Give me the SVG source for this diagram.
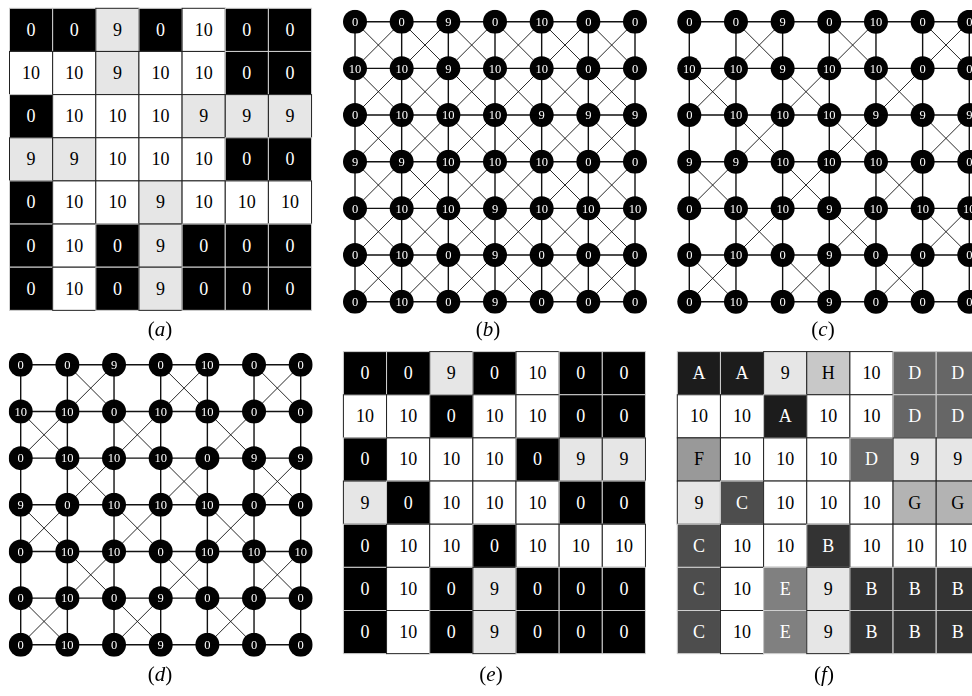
<svg xmlns="http://www.w3.org/2000/svg" xmlns:xlink="http://www.w3.org/1999/xlink" width="972" height="696" viewBox="0 0 972 696">
<style>
rect{width:43.15px;height:43.15px;stroke-width:1}
text{font-family:"Liberation Serif","Times New Roman",serif}
.c text{font-size:18px;text-anchor:middle}
.k rect{fill:#000;stroke:#cfcfcf}.k text{fill:#fff}
.w rect{fill:#fff;stroke:#222}.w text{fill:#000}
.g rect{fill:#e6e6e6;stroke:#222}.g text{fill:#000}
.A rect{fill:#1c1c1c;stroke:#cfcfcf}.A text{fill:#fff}
.B rect{fill:#333;stroke:#cfcfcf}.B text{fill:#fff}
.C rect{fill:#4d4d4d;stroke:#cfcfcf}.C text{fill:#fff}
.D rect{fill:#666;stroke:#cfcfcf}.D text{fill:#fff}
.E rect{fill:#808080;stroke:#cfcfcf}.E text{fill:#fff}
.F rect{fill:#999;stroke:#222}.F text{fill:#000}
.G rect{fill:#b3b3b3;stroke:#222}.G text{fill:#000}
.H rect{fill:#c8c8c8;stroke:#222}.H text{fill:#000}
.nodes{opacity:0.995}
.n circle{fill:#000}
.n text{fill:#fff;font-size:12.5px;text-anchor:middle}
.orth{fill:none;stroke:#111;stroke-width:1.4}
.diag{fill:none;stroke:#111;stroke-width:0.9}
.lbl{font-size:21px;text-anchor:middle;fill:#000}
</style>
<defs>
<path id="orth" d="M0 0H280M0 46.67H280M0 93.33H280M0 140H280M0 186.67H280M0 233.33H280M0 280H280M0 0V280M46.67 0V280M93.33 0V280M140 0V280M186.67 0V280M233.33 0V280M280 0V280"/>
<path id="full" d="M0 0L280 280M46.67 0L280 233.33M93.33 0L280 186.67M140 0L280 140M186.67 0L280 93.33M233.33 0L280 46.67M0 46.67L233.33 280M0 93.33L186.67 280M0 140L140 280M0 186.67L93.33 280M0 233.33L46.67 280M0 46.67L46.67 0M0 93.33L93.33 0M0 140L140 0M0 186.67L186.67 0M0 233.33L233.33 0M0 280L280 0M46.67 280L280 46.67M93.33 280L280 93.33M140 280L280 140M186.67 280L280 186.67M233.33 280L280 233.33"/>
<path id="chk" d="M46.67 0L93.33 46.67M93.33 0L46.67 46.67M140 0L186.67 46.67M186.67 0L140 46.67M233.33 0L280 46.67M280 0L233.33 46.67M0 46.67L46.67 93.33M46.67 46.67L0 93.33M93.33 46.67L140 93.33M140 46.67L93.33 93.33M186.67 46.67L233.33 93.33M233.33 46.67L186.67 93.33M46.67 93.33L93.33 140M93.33 93.33L46.67 140M140 93.33L186.67 140M186.67 93.33L140 140M233.33 93.33L280 140M280 93.33L233.33 140M0 140L46.67 186.67M46.67 140L0 186.67M93.33 140L140 186.67M140 140L93.33 186.67M186.67 140L233.33 186.67M233.33 140L186.67 186.67M46.67 186.67L93.33 233.33M93.33 186.67L46.67 233.33M140 186.67L186.67 233.33M186.67 186.67L140 233.33M233.33 186.67L280 233.33M280 186.67L233.33 233.33M0 233.33L46.67 280M46.67 233.33L0 280M93.33 233.33L140 280M140 233.33L93.33 280M186.67 233.33L233.33 280M233.33 233.33L186.67 280"/>
</defs>

<!-- Panel (a) -->
<g id="panel-a" class="c" transform="translate(9.5,8.3)">
<g class="k" transform="translate(0,0)"><rect/><text x="21.6" y="27.6">0</text></g>
<g class="k" transform="translate(43.15,0)"><rect/><text x="21.6" y="27.6">0</text></g>
<g class="g" transform="translate(86.3,0)"><rect/><text x="21.6" y="27.6">9</text></g>
<g class="k" transform="translate(129.45,0)"><rect/><text x="21.6" y="27.6">0</text></g>
<g class="w" transform="translate(172.6,0)"><rect/><text x="21.6" y="27.6">10</text></g>
<g class="k" transform="translate(215.75,0)"><rect/><text x="21.6" y="27.6">0</text></g>
<g class="k" transform="translate(258.9,0)"><rect/><text x="21.6" y="27.6">0</text></g>
<g class="w" transform="translate(0,43.15)"><rect/><text x="21.6" y="27.6">10</text></g>
<g class="w" transform="translate(43.15,43.15)"><rect/><text x="21.6" y="27.6">10</text></g>
<g class="g" transform="translate(86.3,43.15)"><rect/><text x="21.6" y="27.6">9</text></g>
<g class="w" transform="translate(129.45,43.15)"><rect/><text x="21.6" y="27.6">10</text></g>
<g class="w" transform="translate(172.6,43.15)"><rect/><text x="21.6" y="27.6">10</text></g>
<g class="k" transform="translate(215.75,43.15)"><rect/><text x="21.6" y="27.6">0</text></g>
<g class="k" transform="translate(258.9,43.15)"><rect/><text x="21.6" y="27.6">0</text></g>
<g class="k" transform="translate(0,86.3)"><rect/><text x="21.6" y="27.6">0</text></g>
<g class="w" transform="translate(43.15,86.3)"><rect/><text x="21.6" y="27.6">10</text></g>
<g class="w" transform="translate(86.3,86.3)"><rect/><text x="21.6" y="27.6">10</text></g>
<g class="w" transform="translate(129.45,86.3)"><rect/><text x="21.6" y="27.6">10</text></g>
<g class="g" transform="translate(172.6,86.3)"><rect/><text x="21.6" y="27.6">9</text></g>
<g class="g" transform="translate(215.75,86.3)"><rect/><text x="21.6" y="27.6">9</text></g>
<g class="g" transform="translate(258.9,86.3)"><rect/><text x="21.6" y="27.6">9</text></g>
<g class="g" transform="translate(0,129.45)"><rect/><text x="21.6" y="27.6">9</text></g>
<g class="g" transform="translate(43.15,129.45)"><rect/><text x="21.6" y="27.6">9</text></g>
<g class="w" transform="translate(86.3,129.45)"><rect/><text x="21.6" y="27.6">10</text></g>
<g class="w" transform="translate(129.45,129.45)"><rect/><text x="21.6" y="27.6">10</text></g>
<g class="w" transform="translate(172.6,129.45)"><rect/><text x="21.6" y="27.6">10</text></g>
<g class="k" transform="translate(215.75,129.45)"><rect/><text x="21.6" y="27.6">0</text></g>
<g class="k" transform="translate(258.9,129.45)"><rect/><text x="21.6" y="27.6">0</text></g>
<g class="k" transform="translate(0,172.6)"><rect/><text x="21.6" y="27.6">0</text></g>
<g class="w" transform="translate(43.15,172.6)"><rect/><text x="21.6" y="27.6">10</text></g>
<g class="w" transform="translate(86.3,172.6)"><rect/><text x="21.6" y="27.6">10</text></g>
<g class="g" transform="translate(129.45,172.6)"><rect/><text x="21.6" y="27.6">9</text></g>
<g class="w" transform="translate(172.6,172.6)"><rect/><text x="21.6" y="27.6">10</text></g>
<g class="w" transform="translate(215.75,172.6)"><rect/><text x="21.6" y="27.6">10</text></g>
<g class="w" transform="translate(258.9,172.6)"><rect/><text x="21.6" y="27.6">10</text></g>
<g class="k" transform="translate(0,215.75)"><rect/><text x="21.6" y="27.6">0</text></g>
<g class="w" transform="translate(43.15,215.75)"><rect/><text x="21.6" y="27.6">10</text></g>
<g class="k" transform="translate(86.3,215.75)"><rect/><text x="21.6" y="27.6">0</text></g>
<g class="g" transform="translate(129.45,215.75)"><rect/><text x="21.6" y="27.6">9</text></g>
<g class="k" transform="translate(172.6,215.75)"><rect/><text x="21.6" y="27.6">0</text></g>
<g class="k" transform="translate(215.75,215.75)"><rect/><text x="21.6" y="27.6">0</text></g>
<g class="k" transform="translate(258.9,215.75)"><rect/><text x="21.6" y="27.6">0</text></g>
<g class="k" transform="translate(0,258.9)"><rect/><text x="21.6" y="27.6">0</text></g>
<g class="w" transform="translate(43.15,258.9)"><rect/><text x="21.6" y="27.6">10</text></g>
<g class="k" transform="translate(86.3,258.9)"><rect/><text x="21.6" y="27.6">0</text></g>
<g class="g" transform="translate(129.45,258.9)"><rect/><text x="21.6" y="27.6">9</text></g>
<g class="k" transform="translate(172.6,258.9)"><rect/><text x="21.6" y="27.6">0</text></g>
<g class="k" transform="translate(215.75,258.9)"><rect/><text x="21.6" y="27.6">0</text></g>
<g class="k" transform="translate(258.9,258.9)"><rect/><text x="21.6" y="27.6">0</text></g>
</g>

<!-- Panel (e) -->
<g id="panel-e" class="c" transform="translate(343.4,351.6)">
<g class="k" transform="translate(0,0)"><rect/><text x="21.6" y="27.6">0</text></g>
<g class="k" transform="translate(43.15,0)"><rect/><text x="21.6" y="27.6">0</text></g>
<g class="g" transform="translate(86.3,0)"><rect/><text x="21.6" y="27.6">9</text></g>
<g class="k" transform="translate(129.45,0)"><rect/><text x="21.6" y="27.6">0</text></g>
<g class="w" transform="translate(172.6,0)"><rect/><text x="21.6" y="27.6">10</text></g>
<g class="k" transform="translate(215.75,0)"><rect/><text x="21.6" y="27.6">0</text></g>
<g class="k" transform="translate(258.9,0)"><rect/><text x="21.6" y="27.6">0</text></g>
<g class="w" transform="translate(0,43.15)"><rect/><text x="21.6" y="27.6">10</text></g>
<g class="w" transform="translate(43.15,43.15)"><rect/><text x="21.6" y="27.6">10</text></g>
<g class="k" transform="translate(86.3,43.15)"><rect/><text x="21.6" y="27.6">0</text></g>
<g class="w" transform="translate(129.45,43.15)"><rect/><text x="21.6" y="27.6">10</text></g>
<g class="w" transform="translate(172.6,43.15)"><rect/><text x="21.6" y="27.6">10</text></g>
<g class="k" transform="translate(215.75,43.15)"><rect/><text x="21.6" y="27.6">0</text></g>
<g class="k" transform="translate(258.9,43.15)"><rect/><text x="21.6" y="27.6">0</text></g>
<g class="k" transform="translate(0,86.3)"><rect/><text x="21.6" y="27.6">0</text></g>
<g class="w" transform="translate(43.15,86.3)"><rect/><text x="21.6" y="27.6">10</text></g>
<g class="w" transform="translate(86.3,86.3)"><rect/><text x="21.6" y="27.6">10</text></g>
<g class="w" transform="translate(129.45,86.3)"><rect/><text x="21.6" y="27.6">10</text></g>
<g class="k" transform="translate(172.6,86.3)"><rect/><text x="21.6" y="27.6">0</text></g>
<g class="g" transform="translate(215.75,86.3)"><rect/><text x="21.6" y="27.6">9</text></g>
<g class="g" transform="translate(258.9,86.3)"><rect/><text x="21.6" y="27.6">9</text></g>
<g class="g" transform="translate(0,129.45)"><rect/><text x="21.6" y="27.6">9</text></g>
<g class="k" transform="translate(43.15,129.45)"><rect/><text x="21.6" y="27.6">0</text></g>
<g class="w" transform="translate(86.3,129.45)"><rect/><text x="21.6" y="27.6">10</text></g>
<g class="w" transform="translate(129.45,129.45)"><rect/><text x="21.6" y="27.6">10</text></g>
<g class="w" transform="translate(172.6,129.45)"><rect/><text x="21.6" y="27.6">10</text></g>
<g class="k" transform="translate(215.75,129.45)"><rect/><text x="21.6" y="27.6">0</text></g>
<g class="k" transform="translate(258.9,129.45)"><rect/><text x="21.6" y="27.6">0</text></g>
<g class="k" transform="translate(0,172.6)"><rect/><text x="21.6" y="27.6">0</text></g>
<g class="w" transform="translate(43.15,172.6)"><rect/><text x="21.6" y="27.6">10</text></g>
<g class="w" transform="translate(86.3,172.6)"><rect/><text x="21.6" y="27.6">10</text></g>
<g class="k" transform="translate(129.45,172.6)"><rect/><text x="21.6" y="27.6">0</text></g>
<g class="w" transform="translate(172.6,172.6)"><rect/><text x="21.6" y="27.6">10</text></g>
<g class="w" transform="translate(215.75,172.6)"><rect/><text x="21.6" y="27.6">10</text></g>
<g class="w" transform="translate(258.9,172.6)"><rect/><text x="21.6" y="27.6">10</text></g>
<g class="k" transform="translate(0,215.75)"><rect/><text x="21.6" y="27.6">0</text></g>
<g class="w" transform="translate(43.15,215.75)"><rect/><text x="21.6" y="27.6">10</text></g>
<g class="k" transform="translate(86.3,215.75)"><rect/><text x="21.6" y="27.6">0</text></g>
<g class="g" transform="translate(129.45,215.75)"><rect/><text x="21.6" y="27.6">9</text></g>
<g class="k" transform="translate(172.6,215.75)"><rect/><text x="21.6" y="27.6">0</text></g>
<g class="k" transform="translate(215.75,215.75)"><rect/><text x="21.6" y="27.6">0</text></g>
<g class="k" transform="translate(258.9,215.75)"><rect/><text x="21.6" y="27.6">0</text></g>
<g class="k" transform="translate(0,258.9)"><rect/><text x="21.6" y="27.6">0</text></g>
<g class="w" transform="translate(43.15,258.9)"><rect/><text x="21.6" y="27.6">10</text></g>
<g class="k" transform="translate(86.3,258.9)"><rect/><text x="21.6" y="27.6">0</text></g>
<g class="g" transform="translate(129.45,258.9)"><rect/><text x="21.6" y="27.6">9</text></g>
<g class="k" transform="translate(172.6,258.9)"><rect/><text x="21.6" y="27.6">0</text></g>
<g class="k" transform="translate(215.75,258.9)"><rect/><text x="21.6" y="27.6">0</text></g>
<g class="k" transform="translate(258.9,258.9)"><rect/><text x="21.6" y="27.6">0</text></g>
</g>

<!-- Panel (f) -->
<g id="panel-f" class="c" transform="translate(677.3,351.6)">
<g class="A" transform="translate(0,0)"><rect/><text x="21.6" y="27.6">A</text></g>
<g class="A" transform="translate(43.15,0)"><rect/><text x="21.6" y="27.6">A</text></g>
<g class="g" transform="translate(86.3,0)"><rect/><text x="21.6" y="27.6">9</text></g>
<g class="H" transform="translate(129.45,0)"><rect/><text x="21.6" y="27.6">H</text></g>
<g class="w" transform="translate(172.6,0)"><rect/><text x="21.6" y="27.6">10</text></g>
<g class="D" transform="translate(215.75,0)"><rect/><text x="21.6" y="27.6">D</text></g>
<g class="D" transform="translate(258.9,0)"><rect/><text x="21.6" y="27.6">D</text></g>
<g class="w" transform="translate(0,43.15)"><rect/><text x="21.6" y="27.6">10</text></g>
<g class="w" transform="translate(43.15,43.15)"><rect/><text x="21.6" y="27.6">10</text></g>
<g class="A" transform="translate(86.3,43.15)"><rect/><text x="21.6" y="27.6">A</text></g>
<g class="w" transform="translate(129.45,43.15)"><rect/><text x="21.6" y="27.6">10</text></g>
<g class="w" transform="translate(172.6,43.15)"><rect/><text x="21.6" y="27.6">10</text></g>
<g class="D" transform="translate(215.75,43.15)"><rect/><text x="21.6" y="27.6">D</text></g>
<g class="D" transform="translate(258.9,43.15)"><rect/><text x="21.6" y="27.6">D</text></g>
<g class="F" transform="translate(0,86.3)"><rect/><text x="21.6" y="27.6">F</text></g>
<g class="w" transform="translate(43.15,86.3)"><rect/><text x="21.6" y="27.6">10</text></g>
<g class="w" transform="translate(86.3,86.3)"><rect/><text x="21.6" y="27.6">10</text></g>
<g class="w" transform="translate(129.45,86.3)"><rect/><text x="21.6" y="27.6">10</text></g>
<g class="D" transform="translate(172.6,86.3)"><rect/><text x="21.6" y="27.6">D</text></g>
<g class="g" transform="translate(215.75,86.3)"><rect/><text x="21.6" y="27.6">9</text></g>
<g class="g" transform="translate(258.9,86.3)"><rect/><text x="21.6" y="27.6">9</text></g>
<g class="g" transform="translate(0,129.45)"><rect/><text x="21.6" y="27.6">9</text></g>
<g class="C" transform="translate(43.15,129.45)"><rect/><text x="21.6" y="27.6">C</text></g>
<g class="w" transform="translate(86.3,129.45)"><rect/><text x="21.6" y="27.6">10</text></g>
<g class="w" transform="translate(129.45,129.45)"><rect/><text x="21.6" y="27.6">10</text></g>
<g class="w" transform="translate(172.6,129.45)"><rect/><text x="21.6" y="27.6">10</text></g>
<g class="G" transform="translate(215.75,129.45)"><rect/><text x="21.6" y="27.6">G</text></g>
<g class="G" transform="translate(258.9,129.45)"><rect/><text x="21.6" y="27.6">G</text></g>
<g class="C" transform="translate(0,172.6)"><rect/><text x="21.6" y="27.6">C</text></g>
<g class="w" transform="translate(43.15,172.6)"><rect/><text x="21.6" y="27.6">10</text></g>
<g class="w" transform="translate(86.3,172.6)"><rect/><text x="21.6" y="27.6">10</text></g>
<g class="B" transform="translate(129.45,172.6)"><rect/><text x="21.6" y="27.6">B</text></g>
<g class="w" transform="translate(172.6,172.6)"><rect/><text x="21.6" y="27.6">10</text></g>
<g class="w" transform="translate(215.75,172.6)"><rect/><text x="21.6" y="27.6">10</text></g>
<g class="w" transform="translate(258.9,172.6)"><rect/><text x="21.6" y="27.6">10</text></g>
<g class="C" transform="translate(0,215.75)"><rect/><text x="21.6" y="27.6">C</text></g>
<g class="w" transform="translate(43.15,215.75)"><rect/><text x="21.6" y="27.6">10</text></g>
<g class="E" transform="translate(86.3,215.75)"><rect/><text x="21.6" y="27.6">E</text></g>
<g class="g" transform="translate(129.45,215.75)"><rect/><text x="21.6" y="27.6">9</text></g>
<g class="B" transform="translate(172.6,215.75)"><rect/><text x="21.6" y="27.6">B</text></g>
<g class="B" transform="translate(215.75,215.75)"><rect/><text x="21.6" y="27.6">B</text></g>
<g class="B" transform="translate(258.9,215.75)"><rect/><text x="21.6" y="27.6">B</text></g>
<g class="C" transform="translate(0,258.9)"><rect/><text x="21.6" y="27.6">C</text></g>
<g class="w" transform="translate(43.15,258.9)"><rect/><text x="21.6" y="27.6">10</text></g>
<g class="E" transform="translate(86.3,258.9)"><rect/><text x="21.6" y="27.6">E</text></g>
<g class="g" transform="translate(129.45,258.9)"><rect/><text x="21.6" y="27.6">9</text></g>
<g class="B" transform="translate(172.6,258.9)"><rect/><text x="21.6" y="27.6">B</text></g>
<g class="B" transform="translate(215.75,258.9)"><rect/><text x="21.6" y="27.6">B</text></g>
<g class="B" transform="translate(258.9,258.9)"><rect/><text x="21.6" y="27.6">B</text></g>
</g>

<!-- Connectors -->
<g id="connectors">
<g transform="translate(355,21.7)"><use xlink:href="#orth" class="orth"/><use xlink:href="#full" class="diag"/></g>
<g transform="translate(689.3,21.7)"><use xlink:href="#orth" class="orth"/><use xlink:href="#chk" class="diag"/></g>
<g transform="translate(20.7,364.8)"><use xlink:href="#orth" class="orth"/><use xlink:href="#chk" class="diag"/></g>
</g>

<!-- Panel (b) nodes -->
<g id="panel-b" class="nodes" transform="translate(355,21.7)">
<g id="b00" class="n" transform="translate(0,0)"><circle r="12"/><text y="4.3">0</text></g>
<g id="b01" class="n" transform="translate(46.67,0)"><circle r="12"/><text y="4.3">0</text></g>
<g id="b02" class="n" transform="translate(93.33,0)"><circle r="12"/><text y="4.3">9</text></g>
<g id="b03" class="n" transform="translate(140,0)"><circle r="12"/><text y="4.3">0</text></g>
<g id="b04" class="n" transform="translate(186.67,0)"><circle r="12"/><text y="4.3">10</text></g>
<g id="b05" class="n" transform="translate(233.33,0)"><circle r="12"/><text y="4.3">0</text></g>
<g id="b06" class="n" transform="translate(280,0)"><circle r="12"/><text y="4.3">0</text></g>
<g id="b10" class="n" transform="translate(0,46.67)"><circle r="12"/><text y="4.3">10</text></g>
<g id="b11" class="n" transform="translate(46.67,46.67)"><circle r="12"/><text y="4.3">10</text></g>
<g id="b12" class="n" transform="translate(93.33,46.67)"><circle r="12"/><text y="4.3">9</text></g>
<g id="b13" class="n" transform="translate(140,46.67)"><circle r="12"/><text y="4.3">10</text></g>
<g id="b14" class="n" transform="translate(186.67,46.67)"><circle r="12"/><text y="4.3">10</text></g>
<g id="b15" class="n" transform="translate(233.33,46.67)"><circle r="12"/><text y="4.3">0</text></g>
<g id="b16" class="n" transform="translate(280,46.67)"><circle r="12"/><text y="4.3">0</text></g>
<g id="b20" class="n" transform="translate(0,93.33)"><circle r="12"/><text y="4.3">0</text></g>
<g id="b21" class="n" transform="translate(46.67,93.33)"><circle r="12"/><text y="4.3">10</text></g>
<g id="b22" class="n" transform="translate(93.33,93.33)"><circle r="12"/><text y="4.3">10</text></g>
<g id="b23" class="n" transform="translate(140,93.33)"><circle r="12"/><text y="4.3">10</text></g>
<g id="b24" class="n" transform="translate(186.67,93.33)"><circle r="12"/><text y="4.3">9</text></g>
<g id="b25" class="n" transform="translate(233.33,93.33)"><circle r="12"/><text y="4.3">9</text></g>
<g id="b26" class="n" transform="translate(280,93.33)"><circle r="12"/><text y="4.3">9</text></g>
<g id="b30" class="n" transform="translate(0,140)"><circle r="12"/><text y="4.3">9</text></g>
<g id="b31" class="n" transform="translate(46.67,140)"><circle r="12"/><text y="4.3">9</text></g>
<g id="b32" class="n" transform="translate(93.33,140)"><circle r="12"/><text y="4.3">10</text></g>
<g id="b33" class="n" transform="translate(140,140)"><circle r="12"/><text y="4.3">10</text></g>
<g id="b34" class="n" transform="translate(186.67,140)"><circle r="12"/><text y="4.3">10</text></g>
<g id="b35" class="n" transform="translate(233.33,140)"><circle r="12"/><text y="4.3">0</text></g>
<g id="b36" class="n" transform="translate(280,140)"><circle r="12"/><text y="4.3">0</text></g>
<g id="b40" class="n" transform="translate(0,186.67)"><circle r="12"/><text y="4.3">0</text></g>
<g id="b41" class="n" transform="translate(46.67,186.67)"><circle r="12"/><text y="4.3">10</text></g>
<g id="b42" class="n" transform="translate(93.33,186.67)"><circle r="12"/><text y="4.3">10</text></g>
<g id="b43" class="n" transform="translate(140,186.67)"><circle r="12"/><text y="4.3">9</text></g>
<g id="b44" class="n" transform="translate(186.67,186.67)"><circle r="12"/><text y="4.3">10</text></g>
<g id="b45" class="n" transform="translate(233.33,186.67)"><circle r="12"/><text y="4.3">10</text></g>
<g id="b46" class="n" transform="translate(280,186.67)"><circle r="12"/><text y="4.3">10</text></g>
<g id="b50" class="n" transform="translate(0,233.33)"><circle r="12"/><text y="4.3">0</text></g>
<g id="b51" class="n" transform="translate(46.67,233.33)"><circle r="12"/><text y="4.3">10</text></g>
<g id="b52" class="n" transform="translate(93.33,233.33)"><circle r="12"/><text y="4.3">0</text></g>
<g id="b53" class="n" transform="translate(140,233.33)"><circle r="12"/><text y="4.3">9</text></g>
<g id="b54" class="n" transform="translate(186.67,233.33)"><circle r="12"/><text y="4.3">0</text></g>
<g id="b55" class="n" transform="translate(233.33,233.33)"><circle r="12"/><text y="4.3">0</text></g>
<g id="b56" class="n" transform="translate(280,233.33)"><circle r="12"/><text y="4.3">0</text></g>
<g id="b60" class="n" transform="translate(0,280)"><circle r="12"/><text y="4.3">0</text></g>
<g id="b61" class="n" transform="translate(46.67,280)"><circle r="12"/><text y="4.3">10</text></g>
<g id="b62" class="n" transform="translate(93.33,280)"><circle r="12"/><text y="4.3">0</text></g>
<g id="b63" class="n" transform="translate(140,280)"><circle r="12"/><text y="4.3">9</text></g>
<g id="b64" class="n" transform="translate(186.67,280)"><circle r="12"/><text y="4.3">0</text></g>
<g id="b65" class="n" transform="translate(233.33,280)"><circle r="12"/><text y="4.3">0</text></g>
<g id="b66" class="n" transform="translate(280,280)"><circle r="12"/><text y="4.3">0</text></g>
</g>

<!-- Panel (c) nodes -->
<g id="panel-c" class="nodes" transform="translate(689.3,21.7)">
<g id="c00" class="n" transform="translate(0,0)"><circle r="12"/><text y="4.3">0</text></g>
<g id="c01" class="n" transform="translate(46.67,0)"><circle r="12"/><text y="4.3">0</text></g>
<g id="c02" class="n" transform="translate(93.33,0)"><circle r="12"/><text y="4.3">9</text></g>
<g id="c03" class="n" transform="translate(140,0)"><circle r="12"/><text y="4.3">0</text></g>
<g id="c04" class="n" transform="translate(186.67,0)"><circle r="12"/><text y="4.3">10</text></g>
<g id="c05" class="n" transform="translate(233.33,0)"><circle r="12"/><text y="4.3">0</text></g>
<g id="c06" class="n" transform="translate(280,0)"><circle r="12"/><text y="4.3">0</text></g>
<g id="c10" class="n" transform="translate(0,46.67)"><circle r="12"/><text y="4.3">10</text></g>
<g id="c11" class="n" transform="translate(46.67,46.67)"><circle r="12"/><text y="4.3">10</text></g>
<g id="c12" class="n" transform="translate(93.33,46.67)"><circle r="12"/><text y="4.3">9</text></g>
<g id="c13" class="n" transform="translate(140,46.67)"><circle r="12"/><text y="4.3">10</text></g>
<g id="c14" class="n" transform="translate(186.67,46.67)"><circle r="12"/><text y="4.3">10</text></g>
<g id="c15" class="n" transform="translate(233.33,46.67)"><circle r="12"/><text y="4.3">0</text></g>
<g id="c16" class="n" transform="translate(280,46.67)"><circle r="12"/><text y="4.3">0</text></g>
<g id="c20" class="n" transform="translate(0,93.33)"><circle r="12"/><text y="4.3">0</text></g>
<g id="c21" class="n" transform="translate(46.67,93.33)"><circle r="12"/><text y="4.3">10</text></g>
<g id="c22" class="n" transform="translate(93.33,93.33)"><circle r="12"/><text y="4.3">10</text></g>
<g id="c23" class="n" transform="translate(140,93.33)"><circle r="12"/><text y="4.3">10</text></g>
<g id="c24" class="n" transform="translate(186.67,93.33)"><circle r="12"/><text y="4.3">9</text></g>
<g id="c25" class="n" transform="translate(233.33,93.33)"><circle r="12"/><text y="4.3">9</text></g>
<g id="c26" class="n" transform="translate(280,93.33)"><circle r="12"/><text y="4.3">9</text></g>
<g id="c30" class="n" transform="translate(0,140)"><circle r="12"/><text y="4.3">9</text></g>
<g id="c31" class="n" transform="translate(46.67,140)"><circle r="12"/><text y="4.3">9</text></g>
<g id="c32" class="n" transform="translate(93.33,140)"><circle r="12"/><text y="4.3">10</text></g>
<g id="c33" class="n" transform="translate(140,140)"><circle r="12"/><text y="4.3">10</text></g>
<g id="c34" class="n" transform="translate(186.67,140)"><circle r="12"/><text y="4.3">10</text></g>
<g id="c35" class="n" transform="translate(233.33,140)"><circle r="12"/><text y="4.3">0</text></g>
<g id="c36" class="n" transform="translate(280,140)"><circle r="12"/><text y="4.3">0</text></g>
<g id="c40" class="n" transform="translate(0,186.67)"><circle r="12"/><text y="4.3">0</text></g>
<g id="c41" class="n" transform="translate(46.67,186.67)"><circle r="12"/><text y="4.3">10</text></g>
<g id="c42" class="n" transform="translate(93.33,186.67)"><circle r="12"/><text y="4.3">10</text></g>
<g id="c43" class="n" transform="translate(140,186.67)"><circle r="12"/><text y="4.3">9</text></g>
<g id="c44" class="n" transform="translate(186.67,186.67)"><circle r="12"/><text y="4.3">10</text></g>
<g id="c45" class="n" transform="translate(233.33,186.67)"><circle r="12"/><text y="4.3">10</text></g>
<g id="c46" class="n" transform="translate(280,186.67)"><circle r="12"/><text y="4.3">10</text></g>
<g id="c50" class="n" transform="translate(0,233.33)"><circle r="12"/><text y="4.3">0</text></g>
<g id="c51" class="n" transform="translate(46.67,233.33)"><circle r="12"/><text y="4.3">10</text></g>
<g id="c52" class="n" transform="translate(93.33,233.33)"><circle r="12"/><text y="4.3">0</text></g>
<g id="c53" class="n" transform="translate(140,233.33)"><circle r="12"/><text y="4.3">9</text></g>
<g id="c54" class="n" transform="translate(186.67,233.33)"><circle r="12"/><text y="4.3">0</text></g>
<g id="c55" class="n" transform="translate(233.33,233.33)"><circle r="12"/><text y="4.3">0</text></g>
<g id="c56" class="n" transform="translate(280,233.33)"><circle r="12"/><text y="4.3">0</text></g>
<g id="c60" class="n" transform="translate(0,280)"><circle r="12"/><text y="4.3">0</text></g>
<g id="c61" class="n" transform="translate(46.67,280)"><circle r="12"/><text y="4.3">10</text></g>
<g id="c62" class="n" transform="translate(93.33,280)"><circle r="12"/><text y="4.3">0</text></g>
<g id="c63" class="n" transform="translate(140,280)"><circle r="12"/><text y="4.3">9</text></g>
<g id="c64" class="n" transform="translate(186.67,280)"><circle r="12"/><text y="4.3">0</text></g>
<g id="c65" class="n" transform="translate(233.33,280)"><circle r="12"/><text y="4.3">0</text></g>
<g id="c66" class="n" transform="translate(280,280)"><circle r="12"/><text y="4.3">0</text></g>
</g>

<!-- Panel (d) nodes -->
<g id="panel-d" class="nodes" transform="translate(20.7,364.8)">
<g id="d00" class="n" transform="translate(0,0)"><circle r="12"/><text y="4.3">0</text></g>
<g id="d01" class="n" transform="translate(46.67,0)"><circle r="12"/><text y="4.3">0</text></g>
<g id="d02" class="n" transform="translate(93.33,0)"><circle r="12"/><text y="4.3">9</text></g>
<g id="d03" class="n" transform="translate(140,0)"><circle r="12"/><text y="4.3">0</text></g>
<g id="d04" class="n" transform="translate(186.67,0)"><circle r="12"/><text y="4.3">10</text></g>
<g id="d05" class="n" transform="translate(233.33,0)"><circle r="12"/><text y="4.3">0</text></g>
<g id="d06" class="n" transform="translate(280,0)"><circle r="12"/><text y="4.3">0</text></g>
<g id="d10" class="n" transform="translate(0,46.67)"><circle r="12"/><text y="4.3">10</text></g>
<g id="d11" class="n" transform="translate(46.67,46.67)"><circle r="12"/><text y="4.3">10</text></g>
<g id="d12" class="n" transform="translate(93.33,46.67)"><circle r="12"/><text y="4.3">0</text></g>
<g id="d13" class="n" transform="translate(140,46.67)"><circle r="12"/><text y="4.3">10</text></g>
<g id="d14" class="n" transform="translate(186.67,46.67)"><circle r="12"/><text y="4.3">10</text></g>
<g id="d15" class="n" transform="translate(233.33,46.67)"><circle r="12"/><text y="4.3">0</text></g>
<g id="d16" class="n" transform="translate(280,46.67)"><circle r="12"/><text y="4.3">0</text></g>
<g id="d20" class="n" transform="translate(0,93.33)"><circle r="12"/><text y="4.3">0</text></g>
<g id="d21" class="n" transform="translate(46.67,93.33)"><circle r="12"/><text y="4.3">10</text></g>
<g id="d22" class="n" transform="translate(93.33,93.33)"><circle r="12"/><text y="4.3">10</text></g>
<g id="d23" class="n" transform="translate(140,93.33)"><circle r="12"/><text y="4.3">10</text></g>
<g id="d24" class="n" transform="translate(186.67,93.33)"><circle r="12"/><text y="4.3">0</text></g>
<g id="d25" class="n" transform="translate(233.33,93.33)"><circle r="12"/><text y="4.3">9</text></g>
<g id="d26" class="n" transform="translate(280,93.33)"><circle r="12"/><text y="4.3">9</text></g>
<g id="d30" class="n" transform="translate(0,140)"><circle r="12"/><text y="4.3">9</text></g>
<g id="d31" class="n" transform="translate(46.67,140)"><circle r="12"/><text y="4.3">0</text></g>
<g id="d32" class="n" transform="translate(93.33,140)"><circle r="12"/><text y="4.3">10</text></g>
<g id="d33" class="n" transform="translate(140,140)"><circle r="12"/><text y="4.3">10</text></g>
<g id="d34" class="n" transform="translate(186.67,140)"><circle r="12"/><text y="4.3">10</text></g>
<g id="d35" class="n" transform="translate(233.33,140)"><circle r="12"/><text y="4.3">0</text></g>
<g id="d36" class="n" transform="translate(280,140)"><circle r="12"/><text y="4.3">0</text></g>
<g id="d40" class="n" transform="translate(0,186.67)"><circle r="12"/><text y="4.3">0</text></g>
<g id="d41" class="n" transform="translate(46.67,186.67)"><circle r="12"/><text y="4.3">10</text></g>
<g id="d42" class="n" transform="translate(93.33,186.67)"><circle r="12"/><text y="4.3">10</text></g>
<g id="d43" class="n" transform="translate(140,186.67)"><circle r="12"/><text y="4.3">0</text></g>
<g id="d44" class="n" transform="translate(186.67,186.67)"><circle r="12"/><text y="4.3">10</text></g>
<g id="d45" class="n" transform="translate(233.33,186.67)"><circle r="12"/><text y="4.3">10</text></g>
<g id="d46" class="n" transform="translate(280,186.67)"><circle r="12"/><text y="4.3">10</text></g>
<g id="d50" class="n" transform="translate(0,233.33)"><circle r="12"/><text y="4.3">0</text></g>
<g id="d51" class="n" transform="translate(46.67,233.33)"><circle r="12"/><text y="4.3">10</text></g>
<g id="d52" class="n" transform="translate(93.33,233.33)"><circle r="12"/><text y="4.3">0</text></g>
<g id="d53" class="n" transform="translate(140,233.33)"><circle r="12"/><text y="4.3">9</text></g>
<g id="d54" class="n" transform="translate(186.67,233.33)"><circle r="12"/><text y="4.3">0</text></g>
<g id="d55" class="n" transform="translate(233.33,233.33)"><circle r="12"/><text y="4.3">0</text></g>
<g id="d56" class="n" transform="translate(280,233.33)"><circle r="12"/><text y="4.3">0</text></g>
<g id="d60" class="n" transform="translate(0,280)"><circle r="12"/><text y="4.3">0</text></g>
<g id="d61" class="n" transform="translate(46.67,280)"><circle r="12"/><text y="4.3">10</text></g>
<g id="d62" class="n" transform="translate(93.33,280)"><circle r="12"/><text y="4.3">0</text></g>
<g id="d63" class="n" transform="translate(140,280)"><circle r="12"/><text y="4.3">9</text></g>
<g id="d64" class="n" transform="translate(186.67,280)"><circle r="12"/><text y="4.3">0</text></g>
<g id="d65" class="n" transform="translate(233.33,280)"><circle r="12"/><text y="4.3">0</text></g>
<g id="d66" class="n" transform="translate(280,280)"><circle r="12"/><text y="4.3">0</text></g>
</g>

<!-- Captions -->
<g id="captions">
<text class="lbl" x="160" y="336">(<tspan font-style="italic">a</tspan>)</text>
<text class="lbl" x="488" y="336">(<tspan font-style="italic">b</tspan>)</text>
<text class="lbl" x="823" y="336">(<tspan font-style="italic">c</tspan>)</text>
<text class="lbl" x="160" y="681">(<tspan font-style="italic">d</tspan>)</text>
<text class="lbl" x="491" y="681">(<tspan font-style="italic">e</tspan>)</text>
<text class="lbl" x="824" y="681">(<tspan font-style="italic">f</tspan>)</text>
</g>
</svg>
